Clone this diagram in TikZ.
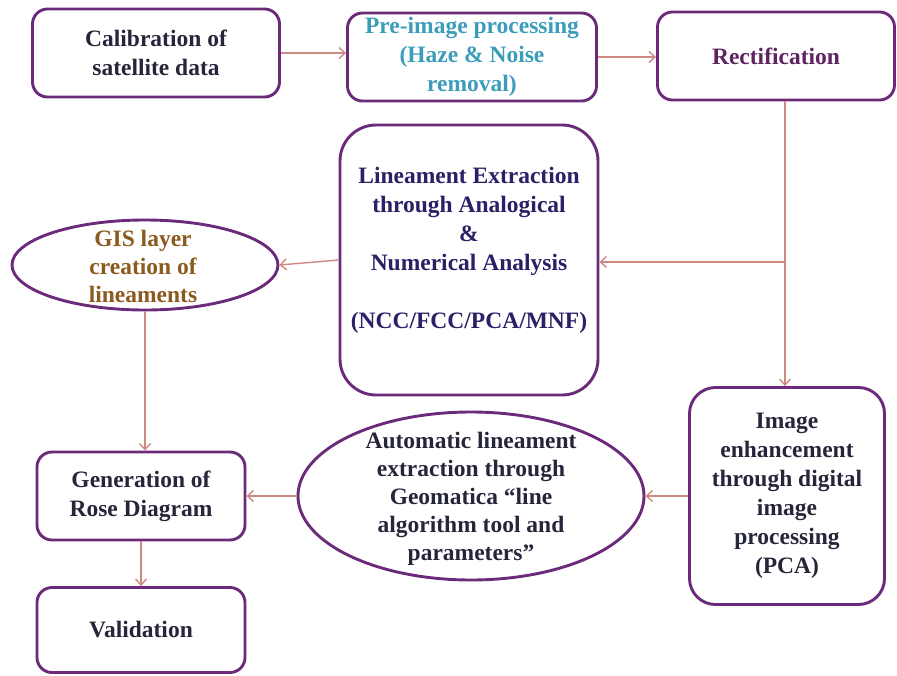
\documentclass[tikz,border=0pt]{standalone}
\usepackage{fontspec}
\setmainfont{Liberation Serif}
\usepackage{xcolor}
\usetikzlibrary{shapes.geometric, arrows.meta, positioning, calc}

\definecolor{boxline}{HTML}{6B2A7A}
\definecolor{flowline}{HTML}{CC8A80}
\definecolor{tealtext}{HTML}{3B9DBA}
\definecolor{plumtext}{HTML}{5E2461}
\definecolor{navytext}{HTML}{2B1F66}
\definecolor{browntext}{HTML}{8B5A1E}
\definecolor{darktext}{HTML}{26263A}

\tikzset{
  stepbox/.style={draw=boxline, line width=2.9pt, rounded corners=15pt, align=center,
    inner sep=0pt, text=darktext, font=\bfseries\fontsize{23.5}{29}\selectfont},
  stepoval/.style={draw=boxline, line width=2.9pt, ellipse, inner sep=0pt},
  steptext/.style={align=center, inner sep=0pt, text=darktext, font=\bfseries\fontsize{23.5}{29}\selectfont},
  flow/.style={draw=flowline, line width=1.4pt, -{Straight Barb[length=6pt,width=11pt]}}
}

\begin{document}
\begin{tikzpicture}[x=1pt, y=-1pt]
  \useasboundingbox (0,0) rectangle (897,675);

  % top row
  \node[stepbox, minimum width=247pt, minimum height=88pt] (calib) at (156,53)
    {Calibration of\\satellite data};
  \node[stepbox, minimum width=249pt, minimum height=88pt, text=tealtext] (pre) at (472,57)
    {Pre-image processing\\(Haze \& Noise\\removal)};
  \node[stepbox, minimum width=237pt, minimum height=88pt, text=plumtext] (rect) at (776,56)
    {Rectification};

  % middle
  \node[stepbox, minimum width=258pt, minimum height=270pt, rounded corners=36pt] (extract) at (469,260) {};
  \node[steptext, text=navytext] (extracttext) at (469,250)
    {Lineament Extraction\\through Analogical\\\&\\Numerical Analysis\\[29pt](NCC/FCC/PCA/MNF)};
  \node[stepoval, minimum width=266pt, minimum height=90pt] (gis) at (145,265) {};
  \node[steptext, text=browntext, font=\bfseries\fontsize{23.5}{28}\selectfont] (gistext) at (143,266)
    {GIS layer\\creation of\\lineaments};

  % bottom
  \node[stepbox, minimum width=195pt, minimum height=217pt, rounded corners=26pt] (enhance) at (787,496)
    {Image\\enhancement\\through digital\\image\\processing\\(PCA)};
  \node[stepoval, minimum width=346pt, minimum height=168pt] (auto) at (471,496) {};
  \node[steptext, font=\bfseries\fontsize{23.5}{28}\selectfont] (autotext) at (471,499)
    {Automatic lineament\\extraction through\\Geomatica ``line\\algorithm tool and\\parameters''};
  \node[stepbox, minimum width=208pt, minimum height=88pt] (rose) at (141,496)
    {Generation of\\Rose Diagram};
  \node[stepbox, minimum width=208pt, minimum height=85pt] (valid) at (141,630)
    {Validation};

  % connectors
  \coordinate (split) at (785,262);
  \draw[flow] (calib.east) -- (calib.east -| pre.west);
  \draw[flow] (pre.east) -- (pre.east -| rect.west);
  \draw[flow] (rect.south -| split) -- (enhance.north -| split);
  \draw[flow] (split) -- (split -| extract.east);
  \draw[flow] (extract.west) -- (gis.east);
  \draw[flow] (gis.south) -- (gis.south |- rose.north);
  \draw[flow] (enhance.west) -- (auto.east);
  \draw[flow] (auto.west) -- (rose.east);
  \draw[flow] (rose.south) -- (valid.north);
\end{tikzpicture}
\end{document}
